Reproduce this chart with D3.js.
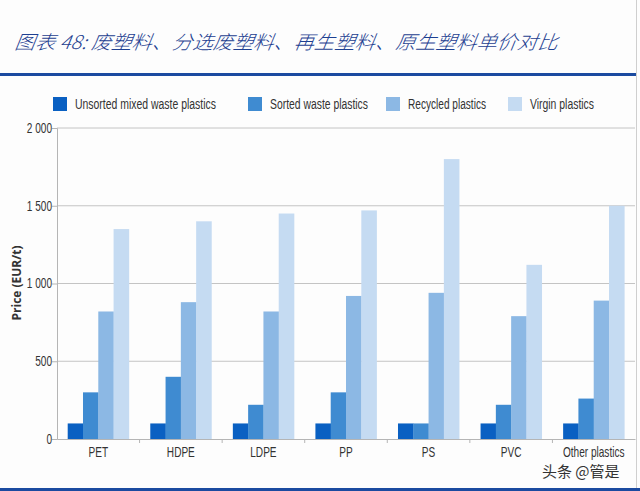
<!DOCTYPE html>
<html>
<head>
<meta charset="utf-8">
<style>
  body { margin: 0; background: #fdfdfd; }
  svg { display: block; }
</style>
</head>
<body>
<script src="https://d3js.org/d3.v7.min.js"></script>
<script>
    const categories = ["PET", "HDPE", "LDPE", "PP", "PS", "PVC", "Other plastics"];
    const seriesNames = ["Unsorted mixed waste plastics", "Sorted waste plastics", "Recycled plastics", "Virgin plastics"];
    const unsorted = [100, 100, 100, 100, 100, 100, 100];
    const sorted = [300, 400, 220, 300, 100, 220, 260];
    const recycled = [820, 880, 820, 920, 940, 790, 890];
    const virgin = [1350, 1400, 1450, 1470, 1800, 1120, 1500];
    const yTicks = [0, 500, 1000, 1500, 2000];
    const yTickLabels = ["0", "500", "1 000", "1 500", "2 000"];

    const colors = ["#0a60c2", "#3f8bd1", "#8cb8e4", "#c5dbf2"];
    const series = [unsorted, sorted, recycled, virgin];

    const width = 640;
    const height = 491;
    const plotLeft = 57, plotRight = 635, plotTop = 128, plotBottom = 439;
    const narrow = "'Liberation Sans', 'DejaVu Sans', sans-serif";
    const squeeze = 0.72; // fake a condensed face

    const svg = d3.select("body")
        .append("svg")
        .attr("width", width)
        .attr("height", height);

    // title
    svg.append("text")
        .attr("x", 14)
        .attr("y", 49)
        .attr("fill", "#1d3f91")
        .attr("font-family", "'Noto Sans CJK SC', sans-serif")
        .attr("font-style", "italic")
        .attr("font-weight", 300)
        .attr("font-size", 19)
        .attr("textLength", 543)
        .attr("lengthAdjust", "spacingAndGlyphs")
        .attr("transform", "translate(7,0) skewX(-8)")
        .text("图表 48:  废塑料、分选废塑料、再生塑料、原生塑料单价对比");

    svg.append("rect")
        .attr("x", 0).attr("y", 73)
        .attr("width", 636).attr("height", 3)
        .attr("fill", "#1b4aa0");

    svg.append("rect")
        .attr("x", 0).attr("y", 488)
        .attr("width", 640).attr("height", 3)
        .attr("fill", "#1b4aa0");

    svg.append("line")
        .attr("x1", 636.5).attr("x2", 636.5)
        .attr("y1", 0).attr("y2", 488)
        .attr("stroke", "#cfcfcf");

    // legend
    const legendX = [53, 248, 386, 508];
    const legendW = [141, 98, 78, 64];
    const legend = svg.append("g")
        .selectAll("g")
        .data(seriesNames)
        .join("g")
        .attr("transform", (d, i) => "translate(" + legendX[i] + ",97)");
    legend.append("rect")
        .attr("width", 14).attr("height", 14)
        .attr("fill", (d, i) => colors[i]);
    legend.append("text")
        .attr("x", 22).attr("y", 12)
        .attr("font-family", narrow)
        .attr("font-size", 14)
        .attr("fill", "#333")
        .attr("textLength", (d, i) => legendW[i])
        .attr("lengthAdjust", "spacingAndGlyphs")
        .text(d => d);

    const xScale = d3.scaleBand()
        .domain(categories)
        .range([plotLeft, plotRight]);

    const xInner = d3.scaleBand()
        .domain(d3.range(series.length))
        .range([0, xScale.bandwidth()])
        .paddingOuter(0.7);

    const yScale = d3.scaleLinear()
        .domain([0, 2000])
        .range([plotBottom, plotTop]);

    // gridlines
    svg.append("g")
        .selectAll("line")
        .data(yTicks.filter(d => d > 0))
        .join("line")
        .attr("x1", plotLeft).attr("x2", plotRight)
        .attr("y1", d => yScale(d)).attr("y2", d => yScale(d))
        .attr("stroke", "#c4c4c4")
        .attr("stroke-width", 1);

    // bars
    svg.append("g")
        .selectAll("g")
        .data(series)
        .join("g")
        .attr("fill", (d, i) => colors[i])
        .selectAll("rect")
        .data((d, i) => d.map((v, j) => ({ v: v, c: categories[j], s: i })))
        .join("rect")
        .attr("x", d => xScale(d.c) + xInner(d.s))
        .attr("width", xInner.bandwidth() + 0.3)
        .attr("y", d => yScale(d.v))
        .attr("height", d => plotBottom - yScale(d.v));

    // y axis
    const yAxis = d3.axisLeft(yScale)
        .tickValues(yTicks)
        .tickFormat((d, i) => yTickLabels[i])
        .tickSize(5);
    const gy = svg.append("g")
        .attr("transform", "translate(" + plotLeft + ",0)")
        .call(yAxis);
    gy.select(".domain").attr("stroke", "#b5b5b5");
    gy.selectAll(".tick line").attr("stroke", "#b5b5b5");
    gy.selectAll(".tick text")
        .attr("font-family", narrow)
        .attr("font-size", 14)
        .attr("fill", "#333")
        .attr("x", -5 / squeeze)
        .attr("transform", "scale(" + squeeze + ",1)");

    // x axis
    const xAxis = d3.axisBottom(xScale)
        .tickSize(0)
        .tickPadding(8);
    const gx = svg.append("g")
        .attr("transform", "translate(0," + plotBottom + ")")
        .call(xAxis);
    gx.select(".domain").attr("stroke", "#b5b5b5");
    gx.selectAll(".tick text")
        .attr("font-family", narrow)
        .attr("font-size", 14)
        .attr("fill", "#333")
        .attr("transform", "scale(" + squeeze + ",1)");
    gx.append("g")
        .selectAll("line")
        .data(categories.slice(1))
        .join("line")
        .attr("x1", d => xScale(d)).attr("x2", d => xScale(d))
        .attr("y1", 0).attr("y2", 4)
        .attr("stroke", "#b5b5b5");

    // y title
    svg.append("text")
        .attr("transform", "translate(17," + ((plotTop + plotBottom) / 2 - 0.5) + ") rotate(-90)")
        .attr("text-anchor", "middle")
        .attr("dy", "0.35em")
        .attr("font-family", "'Open Sans', 'DejaVu Sans', sans-serif")
        .attr("font-weight", "bold")
        .attr("font-size", 12)
        .attr("fill", "#333")
        .text("Price (EUR/t)");

    // watermark
    svg.append("text")
        .attr("x", 542).attr("y", 477)
        .attr("font-family", "'Noto Sans CJK SC', sans-serif")
        .attr("font-size", 15)
        .attr("fill", "#333")
        .text("头条 @管是");
</script>
</body>
</html>
